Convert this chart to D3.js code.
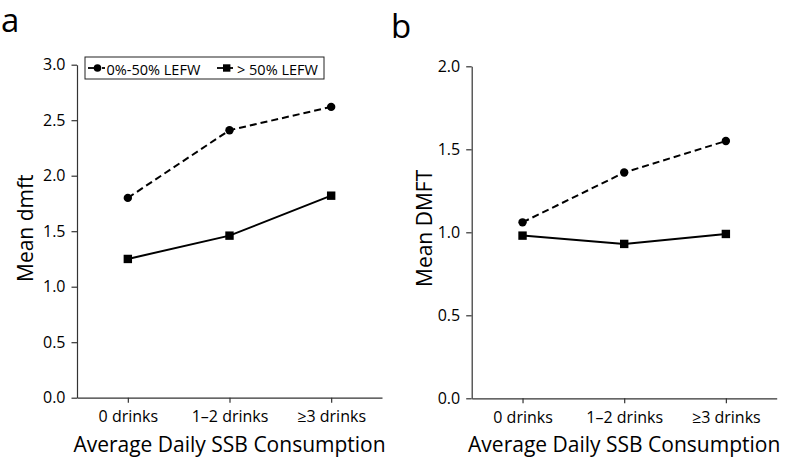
<!DOCTYPE html>
<html><head><meta charset="utf-8">
<script src="https://cdn.jsdelivr.net/npm/d3@7"></script>
<style>
body{margin:0;background:#fff;}
text{font-family:"Open Sans",sans-serif;fill:#000;}
</style></head>
<body><svg id="c" width="785" height="457"></svg>
<script>
const categories = ["0 drinks", "1\u20132 drinks", "\u22653 drinks"];
const seriesNames = ["0%-50% LEFW", "> 50% LEFW"];
const dmftLow  = [1.80, 2.41, 2.62];
const dmftHigh = [1.25, 1.46, 1.82];
const DMFTLow  = [1.06, 1.36, 1.55];
const DMFTHigh = [0.98, 0.93, 0.99];
const ticksA = [0, 0.5, 1.0, 1.5, 2.0, 2.5, 3.0];
const ticksB = [0, 0.5, 1.0, 1.5, 2.0];

const svg = d3.select("#c");

function panel(opt){
  const g = svg.append("g");
  const x = d3.scalePoint().domain(categories).range([opt.left, opt.left+305]).padding(0.5);
  const y = d3.scaleLinear().domain([0, opt.ymax]).range([opt.bottom, opt.top]);
  const ya = g.append("g").attr("transform",`translate(${opt.left},0)`)
    .call(d3.axisLeft(y).tickValues(opt.ticks).tickFormat(d3.format(".1f")).tickSize(5.5).tickSizeOuter(0).tickPadding(6));
  ya.selectAll("text").style("font-size","16px").attr("font-family",null);
  const xa = g.append("g").attr("transform",`translate(0,${opt.bottom})`)
    .call(d3.axisBottom(x).tickSize(5).tickSizeOuter(0).tickPadding(8));
  xa.selectAll("text").style("font-size","16px").attr("font-family",null);
  g.selectAll(".domain, .tick line").attr("stroke","#333").attr("stroke-width",1.2);
  xa.selectAll(".tick text").attr("dy","0.71em");
  // axis titles
  g.append("text").attr("x", x(categories[1])).attr("y", 452).attr("text-anchor","middle")
    .style("font-size","21px").text("Average Daily SSB Consumption");
  g.append("text").attr("transform",`translate(${opt.titleX},${opt.titleY}) rotate(-90)`)
    .attr("text-anchor","start").style("font-size","21px").text(opt.ytitle);
  // panel label
  g.append("text").attr("x",opt.labX).attr("y",opt.labY).style("font-size","33px").text(opt.lab);

  const line = d3.line().x((d,i)=>x(categories[i])).y(d=>y(d));
  g.append("path").datum(opt.low).attr("d",line).attr("fill","none").attr("stroke","#000")
    .attr("stroke-width",2).attr("stroke-dasharray","7,4");
  g.append("path").datum(opt.high).attr("d",line).attr("fill","none").attr("stroke","#000")
    .attr("stroke-width",2);
  g.selectAll(".c").data(opt.low).join("circle").attr("cx",(d,i)=>x(categories[i])).attr("cy",d=>y(d))
    .attr("r",4.2).attr("fill","#000");
  g.selectAll(".s").data(opt.high).join("rect").attr("x",(d,i)=>x(categories[i])-4.2).attr("y",d=>y(d)-4.2)
    .attr("width",8.4).attr("height",8.4).attr("fill","#000");
  return g;
}

panel({left:77, top:64.7, bottom:397.7, ymax:3, ticks:ticksA, low:dmftLow, high:dmftHigh,
  ytitle:"Mean dmft", titleX:33, titleY:282, lab:"a", labX:1, labY:32});
panel({left:471.7, top:66.3, bottom:398.3, ymax:2, ticks:ticksB, low:DMFTLow, high:DMFTHigh,
  ytitle:"Mean DMFT", titleX:432, titleY:287, lab:"b", labX:391, labY:38});

// legend
const lg = svg.append("g");
lg.append("rect").attr("x",85).attr("y",57).attr("width",239).attr("height",22)
  .attr("fill","#fff").attr("stroke","#222").attr("stroke-width",1);
// item 1
lg.append("line").attr("x1",88).attr("x2",100).attr("y1",68).attr("y2",68).attr("stroke","#000").attr("stroke-width",1.8);
lg.append("line").attr("x1",102).attr("x2",105).attr("y1",68).attr("y2",68).attr("stroke","#000").attr("stroke-width",1.8);
lg.append("circle").attr("cx",97.5).attr("cy",68).attr("r",3.8).attr("fill","#000");
lg.append("text").attr("x",106.5).attr("y",75).style("font-size","14.5px").text(seriesNames[0]);
// item 2
lg.append("line").attr("x1",217).attr("x2",233).attr("y1",68).attr("y2",68).attr("stroke","#000").attr("stroke-width",1.8);
lg.append("rect").attr("x",223).attr("y",64.3).attr("width",7.4).attr("height",7.4).attr("fill","#000");
lg.append("text").attr("x",237).attr("y",75).style("font-size","14.5px").text(seriesNames[1]);
</script></body></html>
